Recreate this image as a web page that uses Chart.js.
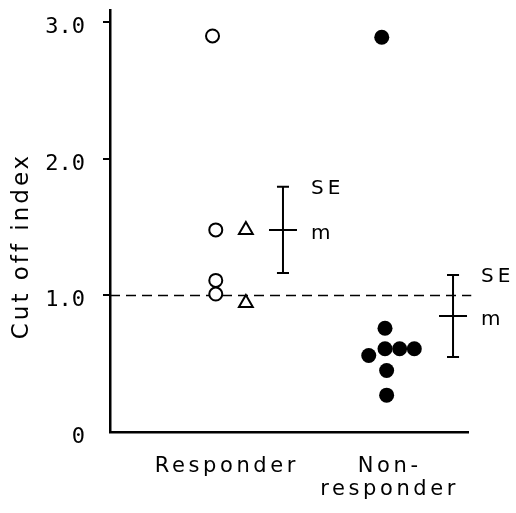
<!DOCTYPE html>
<html>
<head>
<meta charset="utf-8">
<script src="https://cdn.jsdelivr.net/npm/chart.js@4"></script>
<style>html,body{margin:0;padding:0;background:#fff}</style>
</head>
<body>
<canvas id="grafico" width="516" height="513"></canvas>
<script>
// datos
const grupos = [['Responder'], ['Non-', 'responder']];
const gruposX = [1, 2];
const yTicks = [0, 1, 2, 3];
const tituloY = 'Cut off index';

const respCirculoX = [0.93, 0.95, 0.95, 0.95];
const respCirculoY = [2.90, 1.48, 1.11, 1.01];
const respTrianguloX = [1.135, 1.135];
const respTrianguloY = [1.48, 0.945];
const noRespX = [1.97, 1.99, 1.99, 2.08, 2.17, 1.89, 2.0, 2.0];
const noRespY = [2.89, 0.76, 0.61, 0.61, 0.61, 0.56, 0.45, 0.27];

const barraX = [1.363, 2.408];
const barraMedia = [1.48, 0.85];
const barraSE = [0.315, 0.30];
const corte = 1.0;
const corteDesde = 0.3, corteHasta = 2.52;

const anchoTope = 0.037, anchoMedia = 0.086;

function puntos(xs, ys) {
    return xs.map((x, i) => ({ x: x, y: ys[i] }));
}

function puntosBarras() {
    let pts = [];
    barraX.forEach((cx, i) => {
        const lo = barraMedia[i] - barraSE[i];
        const hi = barraMedia[i] + barraSE[i];
        pts.push({ x: cx, y: lo }, { x: cx, y: hi }, { x: cx, y: null });
        pts.push({ x: cx - anchoTope, y: hi }, { x: cx + anchoTope, y: hi }, { x: cx, y: null });
        pts.push({ x: cx - anchoTope, y: lo }, { x: cx + anchoTope, y: lo }, { x: cx, y: null });
        pts.push({ x: cx - anchoMedia, y: barraMedia[i] }, { x: cx + anchoMedia, y: barraMedia[i] }, { x: cx, y: null });
    });
    return pts;
}

// titulo, nombres de grupo y etiquetas SE / m (con espaciado de letras)
const textos = {
    id: 'textos',
    afterDraw(chart) {
        const ctx = chart.ctx;
        const x = chart.scales.x, y = chart.scales.y;
        ctx.save();
        ctx.fillStyle = '#000';
        ctx.letterSpacing = '3px';
        ctx.font = '23px "DejaVu Sans"';
        ctx.textAlign = 'center';
        ctx.textBaseline = 'alphabetic';
        ctx.translate(28, 246);
        ctx.rotate(-Math.PI / 2);
        ctx.fillText(tituloY, 0, 0);
        ctx.restore();

        ctx.save();
        ctx.fillStyle = '#000';
        ctx.letterSpacing = '3.6px';
        ctx.font = '21px "DejaVu Sans"';
        ctx.textAlign = 'center';
        ctx.textBaseline = 'alphabetic';
        grupos.forEach((lineas, i) => {
            const px = x.getPixelForValue(gruposX[i]) + 3;
            lineas.forEach((t, j) => ctx.fillText(t, px, 472 + j * 23));
        });
        ctx.restore();

        ctx.save();
        ctx.fillStyle = '#000';
        ctx.letterSpacing = '4px';
        ctx.font = '20px "DejaVu Sans"';
        ctx.textAlign = 'left';
        ctx.textBaseline = 'middle';
        barraX.forEach((cx, i) => {
            const px = x.getPixelForValue(cx) + 28;
            ctx.fillText('SE', px, y.getPixelForValue(barraMedia[i] + barraSE[i]) + 2);
            ctx.fillText('m', px, y.getPixelForValue(barraMedia[i]) + 4);
        });
        ctx.restore();
    }
};

const ctx = document.getElementById('grafico').getContext('2d');
const grafico = new Chart(ctx, {
    type: 'scatter',
    data: {
        datasets: [{
            data: puntos(respCirculoX, respCirculoY),
            pointStyle: 'circle',
            pointRadius: 6.5,
            borderWidth: 2,
            borderColor: '#000',
            backgroundColor: '#fff'
        }, {
            data: puntos(respTrianguloX, respTrianguloY),
            pointStyle: 'triangle',
            pointRadius: 8,
            borderWidth: 2,
            borderColor: '#000',
            backgroundColor: '#fff'
        }, {
            data: puntos(noRespX, noRespY),
            pointStyle: 'circle',
            pointRadius: 7.5,
            borderWidth: 0,
            backgroundColor: '#000'
        }, {
            data: puntosBarras(),
            showLine: true,
            spanGaps: false,
            pointRadius: 0,
            borderWidth: 2,
            borderColor: '#000'
        }, {
            data: [{ x: corteDesde, y: corte }, { x: corteHasta, y: corte }],
            showLine: true,
            clip: false,
            pointRadius: 0,
            borderWidth: 1.5,
            borderDash: [10, 6],
            borderColor: '#000'
        }]
    },
    options: {
        responsive: false,
        animation: false,
        devicePixelRatio: 1,
        layout: { padding: { top: 10, right: 48, left: 0, bottom: 0 } },
        plugins: { legend: { display: false }, tooltip: { enabled: false } },
        scales: {
            x: {
                type: 'linear',
                min: 0.3,
                max: 2.5,
                afterBuildTicks: s => { s.ticks = gruposX.map(v => ({ value: v })); },
                afterFit: s => { s.height = 81; s.paddingLeft = 0; s.paddingRight = 0; },
                ticks: { display: false },
                grid: { display: false },
                border: { color: '#000', width: 2.5 }
            },
            y: {
                min: 0,
                max: 3.09,
                afterBuildTicks: s => { s.ticks = yTicks.map(v => ({ value: v })); },
                afterFit: s => { s.width = 110; s.paddingTop = 0; s.paddingBottom = 0; },
                ticks: {
                    callback: v => v === 0 ? '0' : v.toFixed(1),
                    font: { family: 'DejaVu Sans Mono', size: 22 },
                    color: '#000',
                    padding: 18,
                    labelOffset: 5
                },
                grid: {
                    drawOnChartArea: false,
                    drawTicks: true,
                    tickLength: 7,
                    lineWidth: 2,
                    color: c => (c.tick && c.tick.value === 0) ? 'rgba(0,0,0,0)' : '#000'
                },
                border: { color: '#000', width: 2.5 }
            }
        }
    },
    plugins: [textos]
});
</script>
</body>
</html>
